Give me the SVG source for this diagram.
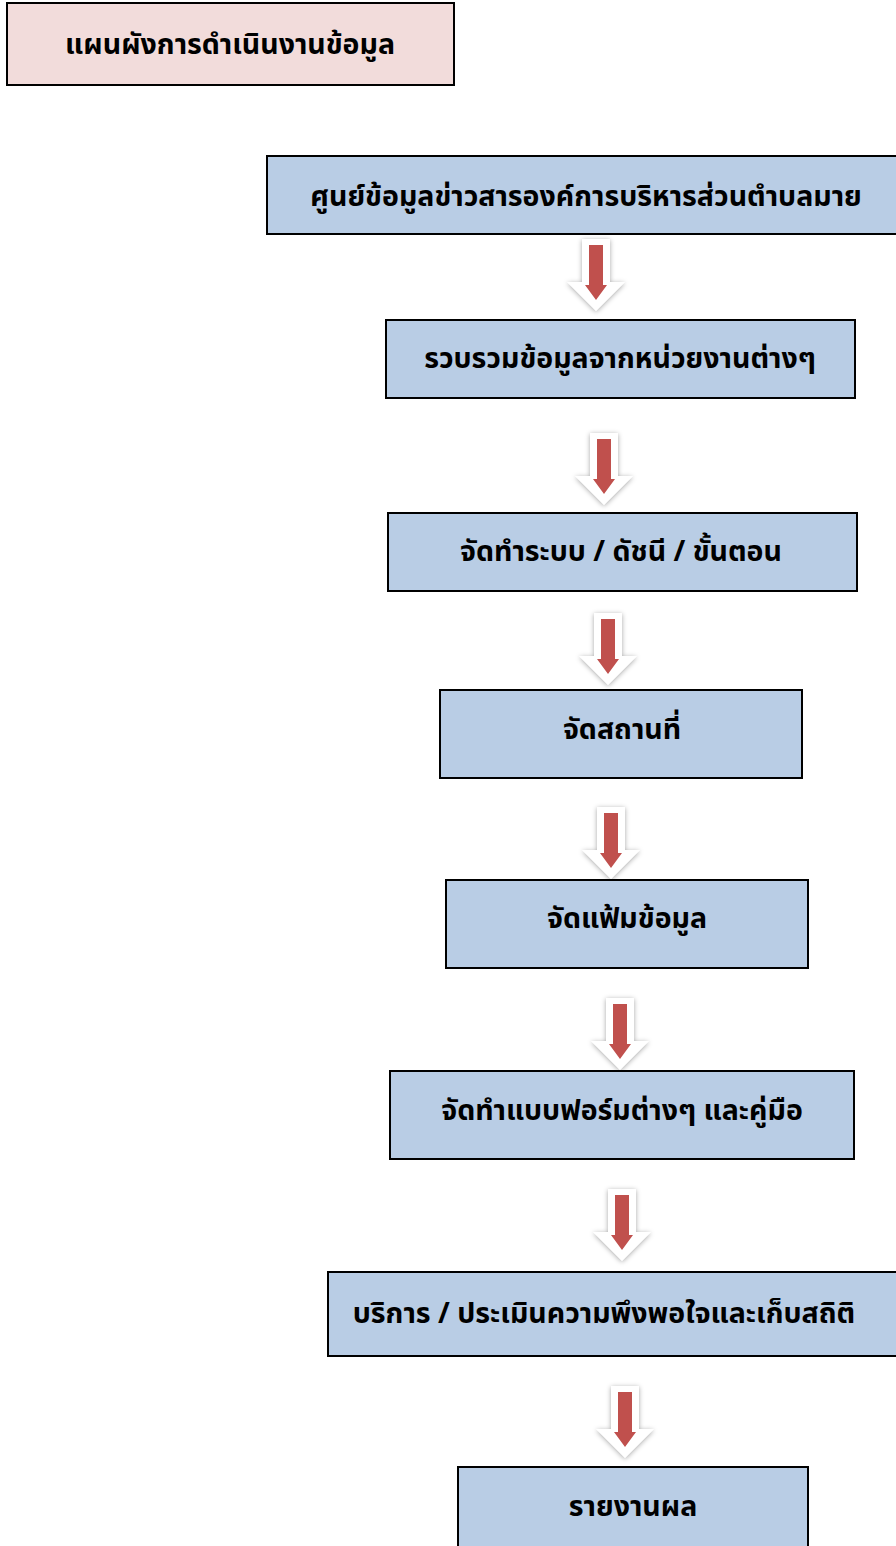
<svg xmlns="http://www.w3.org/2000/svg" width="896" height="1546" viewBox="0 0 896 1546">
<style>
.box{fill:#b9cde5;stroke:#000;stroke-width:2}
.title{fill:#f2dcdb;stroke:#000;stroke-width:2}
.t{font-family:"Noto Sans Thai","Noto Sans Thai UI","Leelawadee UI","Tahoma","Noto Sans",sans-serif;font-weight:bold;font-size:28.5px;fill:#000;text-anchor:middle}
.ao{fill:#fff}
.ai{fill:#c0504d}
</style>
<defs>
<filter id="sh" x="-40%" y="-20%" width="180%" height="150%">
<feDropShadow dx="0" dy="1" stdDeviation="2.5" flood-color="#000" flood-opacity="0.35"/>
</filter>
<g id="arrow">
<path class="ao" filter="url(#sh)" d="M-14,0 H14 V43 H29 L0,72 L-29,43 H-14 Z"/>
<path class="ai" d="M-7,6 H7 V46 H11 L0,61 L-11,46 H-7 Z"/>
</g>
</defs>
<rect width="896" height="1546" fill="#fff"/>
<g id="connectors">
<use href="#arrow" x="596" y="239"/>
<use href="#arrow" x="604" y="433"/>
<use href="#arrow" x="608" y="613"/>
<use href="#arrow" x="611" y="807"/>
<use href="#arrow" x="620" y="998"/>
<use href="#arrow" x="622" y="1189"/>
<use href="#arrow" x="625" y="1386"/>
</g>
<g id="title"><rect class="title" x="7" y="3" width="447" height="82"/><text class="t" x="230" y="54">แผนผังการดำเนินงานข้อมูล</text></g>
<g id="n1"><rect class="box" x="267" y="156" width="640" height="78"/><text class="t" x="586" y="206">ศูนย์ข้อมูลข่าวสารองค์การบริหารส่วนตำบลมาย</text></g>
<g id="n2"><rect class="box" x="386" y="320" width="469" height="78"/><text class="t" x="620" y="368">รวบรวมข้อมูลจากหน่วยงานต่างๆ</text></g>
<g id="n3"><rect class="box" x="388" y="513" width="469" height="78"/><text class="t" x="621" y="561">จัดทำระบบ / ดัชนี / ขั้นตอน</text></g>
<g id="n4"><rect class="box" x="440" y="690" width="362" height="88"/><text class="t" x="622" y="739">จัดสถานที่</text></g>
<g id="n5"><rect class="box" x="446" y="880" width="362" height="88"/><text class="t" x="627" y="928">จัดแฟ้มข้อมูล</text></g>
<g id="n6"><rect class="box" x="390" y="1071" width="464" height="88"/><text class="t" x="622" y="1120">จัดทำแบบฟอร์มต่างๆ และคู่มือ</text></g>
<g id="n7"><rect class="box" x="328" y="1272" width="580" height="84"/><text class="t" x="604" y="1323">บริการ / ประเมินความพึงพอใจและเก็บสถิติ</text></g>
<g id="n8"><rect class="box" x="458" y="1467" width="350" height="90"/><text class="t" x="633" y="1516">รายงานผล</text></g>
</svg>
